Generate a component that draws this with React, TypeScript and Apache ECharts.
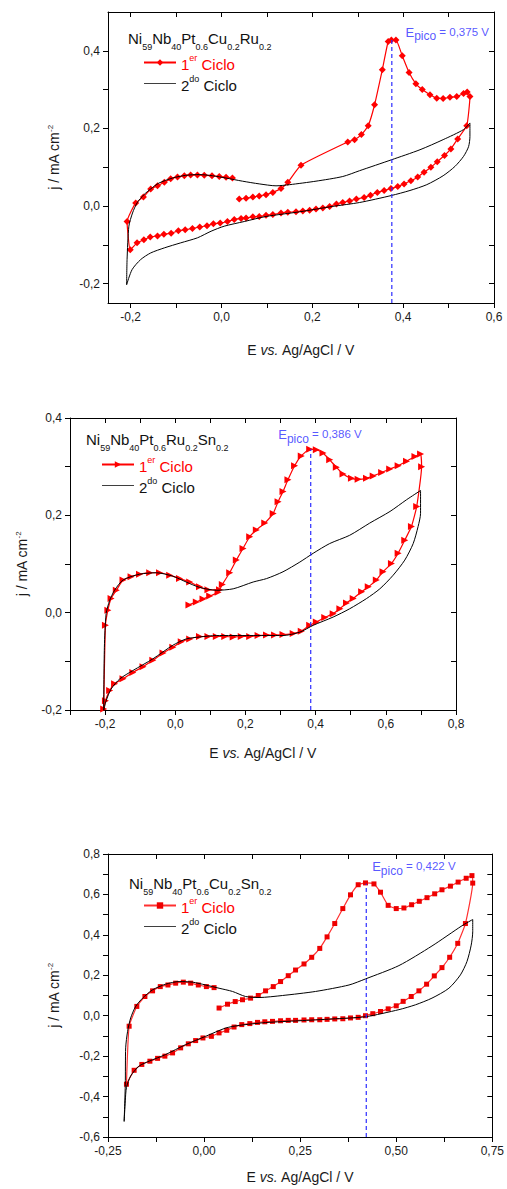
import React, { useEffect, useRef } from "react";
import * as echarts from "echarts";

type Pt = [number, number];

// ---------------- Panel 1 : Ni59Nb40Pt0.6Cu0.2Ru0.2 ----------------
const p1Cycle1: Pt[] = [
  [0.039, 0.018], [0.054, 0.020], [0.069, 0.023], [0.083, 0.026], [0.098, 0.029], [0.113, 0.035],
  [0.131, 0.045], [0.146, 0.061], [0.175, 0.105], [0.278, 0.165],
  [0.293, 0.171], [0.308, 0.184], [0.323, 0.207], [0.337, 0.261], [0.354, 0.351], [0.367, 0.424],
  [0.374, 0.428], [0.384, 0.428], [0.398, 0.387], [0.413, 0.344], [0.428, 0.315], [0.442, 0.300],
  [0.459, 0.287], [0.474, 0.278], [0.488, 0.277], [0.503, 0.280], [0.518, 0.282], [0.533, 0.290],
  [0.541, 0.294], [0.547, 0.282], [0.540, 0.207], [0.520, 0.173], [0.505, 0.147],
  [0.491, 0.130], [0.475, 0.114], [0.461, 0.100], [0.446, 0.087], [0.432, 0.075], [0.417, 0.065],
  [0.402, 0.057], [0.388, 0.050], [0.373, 0.045], [0.358, 0.040], [0.343, 0.035], [0.328, 0.028],
  [0.314, 0.022], [0.297, 0.018], [0.282, 0.013], [0.267, 0.009], [0.253, 0.005], [0.238, -0.001],
  [0.223, -0.005], [0.208, -0.008], [0.194, -0.011], [0.179, -0.013], [0.164, -0.015], [0.146, -0.016],
  [0.131, -0.018], [0.113, -0.022], [0.098, -0.024], [0.083, -0.027], [0.069, -0.028], [0.054, -0.031],
  [0.043, -0.032], [0.028, -0.035], [0.013, -0.040], [-0.003, -0.044], [-0.018, -0.046], [-0.032, -0.051],
  [-0.048, -0.054], [-0.064, -0.058], [-0.080, -0.061], [-0.095, -0.064], [-0.111, -0.070], [-0.127, -0.073],
  [-0.141, -0.077], [-0.157, -0.080], [-0.171, -0.087], [-0.186, -0.095], [-0.201, -0.113],
  [-0.208, -0.040], [-0.189, 0.008], [-0.172, 0.023], [-0.156, 0.044], [-0.141, 0.052], [-0.126, 0.061],
  [-0.112, 0.070], [-0.097, 0.075], [-0.082, 0.078], [-0.068, 0.080], [-0.053, 0.080], [-0.038, 0.079],
  [-0.021, 0.078], [-0.005, 0.076], [0.010, 0.074], [0.024, 0.072],
];
const p1Cycle2: Pt[] = [
  [-0.209, -0.203], [-0.208, -0.138], [-0.204, -0.052], [-0.196, -0.018], [-0.186, 0.008], [-0.171, 0.029],
  [-0.156, 0.044], [-0.138, 0.059], [-0.108, 0.072], [-0.079, 0.079], [-0.049, 0.081], [-0.020, 0.078],
  [0.010, 0.072], [0.046, 0.064], [0.083, 0.057], [0.120, 0.052], [0.150, 0.055], [0.208, 0.064],
  [0.267, 0.076], [0.304, 0.091], [0.374, 0.119], [0.437, 0.145], [0.488, 0.171], [0.533, 0.197],
  [0.547, 0.214], [0.547, 0.179], [0.544, 0.153], [0.533, 0.128], [0.514, 0.102], [0.488, 0.078],
  [0.452, 0.055], [0.415, 0.040], [0.374, 0.027], [0.304, 0.009], [0.245, -0.001], [0.172, -0.015],
  [0.098, -0.027], [0.050, -0.040], [0.006, -0.052], [-0.023, -0.065], [-0.053, -0.082], [-0.090, -0.095],
  [-0.126, -0.108], [-0.156, -0.121], [-0.178, -0.138], [-0.197, -0.164], [-0.209, -0.203],
];
const p1Peak: Pt = [0.375, 0.43];
const p1EpicoAt: Pt = [0.404, 0.443];
const p1XTicks = [-0.2, -0.1, 0, 0.1, 0.2, 0.3, 0.4, 0.5, 0.6];
const p1XLabels = [-0.2, 0, 0.2, 0.4, 0.6];
const p1YTicks = [-0.2, -0.1, 0, 0.1, 0.2, 0.3, 0.4];
const p1YLabels = [-0.2, 0, 0.2, 0.4];

// ---------------- Panel 2 : Ni59Nb40Pt0.6Ru0.2Sn0.2 ----------------
const p2Cycle1: Pt[] = [
  [0.039, 0.016], [0.060, 0.022], [0.079, 0.028], [0.098, 0.034], [0.122, 0.042], [0.134, 0.058],
  [0.155, 0.082], [0.174, 0.108], [0.193, 0.132], [0.212, 0.156], [0.231, 0.170], [0.255, 0.184],
  [0.279, 0.204], [0.293, 0.228], [0.307, 0.249], [0.321, 0.273], [0.340, 0.302], [0.359, 0.322],
  [0.383, 0.336], [0.402, 0.335], [0.421, 0.328], [0.440, 0.314], [0.459, 0.299], [0.478, 0.285],
  [0.502, 0.276], [0.521, 0.274], [0.545, 0.276], [0.564, 0.281], [0.588, 0.288], [0.611, 0.295],
  [0.635, 0.302], [0.659, 0.311], [0.683, 0.321], [0.699, 0.326], [0.702, 0.300], [0.688, 0.218],
  [0.673, 0.177], [0.654, 0.149], [0.635, 0.122], [0.616, 0.101], [0.592, 0.084], [0.573, 0.067],
  [0.550, 0.053], [0.531, 0.043], [0.507, 0.029], [0.488, 0.020], [0.469, 0.008], [0.450, -0.002],
  [0.426, -0.010], [0.402, -0.019], [0.383, -0.026], [0.359, -0.038], [0.336, -0.043], [0.307, -0.045],
  [0.283, -0.046], [0.260, -0.046], [0.236, -0.047], [0.212, -0.049], [0.188, -0.049], [0.165, -0.050],
  [0.141, -0.049], [0.117, -0.049], [0.093, -0.049], [0.069, -0.049], [0.041, -0.054], [0.017, -0.060],
  [-0.007, -0.071], [-0.035, -0.083], [-0.064, -0.098], [-0.092, -0.111], [-0.121, -0.123], [-0.149, -0.136],
  [-0.173, -0.146], [-0.187, -0.160], [-0.199, -0.181], [-0.204, -0.198], [-0.199, -0.026], [-0.192, 0.005],
  [-0.183, 0.029], [-0.168, 0.046], [-0.149, 0.067], [-0.126, 0.074], [-0.102, 0.079], [-0.073, 0.082],
  [-0.045, 0.082], [-0.016, 0.077], [0.012, 0.070], [0.041, 0.063], [0.069, 0.053], [0.093, 0.047],
  [0.126, 0.047],
];
const p2Cycle2: Pt[] = [
  [-0.204, -0.201], [-0.202, -0.071], [-0.197, -0.002], [-0.187, 0.025], [-0.173, 0.046], [-0.149, 0.067],
  [-0.102, 0.079], [-0.054, 0.082], [-0.007, 0.075], [0.031, 0.063], [0.069, 0.052], [0.117, 0.046],
  [0.165, 0.049], [0.222, 0.063], [0.260, 0.070], [0.307, 0.084], [0.355, 0.104], [0.393, 0.122],
  [0.440, 0.142], [0.497, 0.159], [0.554, 0.184], [0.612, 0.208], [0.659, 0.232], [0.699, 0.251],
  [0.699, 0.204], [0.692, 0.177], [0.678, 0.142], [0.654, 0.108], [0.621, 0.077], [0.583, 0.049],
  [0.545, 0.029], [0.497, 0.008], [0.450, -0.009], [0.393, -0.026], [0.355, -0.040], [0.307, -0.047],
  [0.212, -0.047], [0.117, -0.047], [0.069, -0.050], [0.031, -0.054], [-0.007, -0.067], [-0.064, -0.095],
  [-0.121, -0.119], [-0.158, -0.136], [-0.183, -0.157], [-0.197, -0.181], [-0.204, -0.201],
];
const p2Peak: Pt = [0.386, 0.336];
const p2EpicoAt: Pt = [0.292, 0.362];
const p2XTicks = [-0.3, -0.2, -0.1, 0, 0.1, 0.2, 0.3, 0.4, 0.5, 0.6, 0.7, 0.8];
const p2XLabels = [-0.2, 0, 0.2, 0.4, 0.6, 0.8];
const p2YTicks = [-0.2, -0.1, 0, 0.1, 0.2, 0.3, 0.4];
const p2YLabels = [-0.2, 0, 0.2, 0.4];

// ---------------- Panel 3 : Ni59Nb40Pt0.6Cu0.2Sn0.2 ----------------
const p3Cycle1: Pt[] = [
  [0.039, 0.038], [0.061, 0.057], [0.081, 0.070], [0.100, 0.079], [0.121, 0.087], [0.141, 0.100],
  [0.160, 0.123], [0.180, 0.144], [0.199, 0.169], [0.219, 0.198], [0.238, 0.226], [0.260, 0.256],
  [0.280, 0.289], [0.301, 0.333], [0.320, 0.390], [0.340, 0.456], [0.361, 0.530], [0.381, 0.598],
  [0.401, 0.648], [0.420, 0.657], [0.442, 0.652], [0.459, 0.611], [0.479, 0.546], [0.500, 0.530],
  [0.520, 0.533], [0.540, 0.549], [0.560, 0.566], [0.580, 0.584], [0.600, 0.603], [0.619, 0.623],
  [0.641, 0.641], [0.661, 0.661], [0.682, 0.680], [0.697, 0.693], [0.699, 0.656], [0.680, 0.456],
  [0.660, 0.358], [0.639, 0.289], [0.619, 0.238], [0.599, 0.197], [0.579, 0.156], [0.559, 0.123],
  [0.539, 0.095], [0.518, 0.071], [0.500, 0.049], [0.479, 0.034], [0.459, 0.021], [0.439, 0.010],
  [0.420, 0.000], [0.401, -0.008], [0.381, -0.011], [0.361, -0.015], [0.340, -0.016], [0.320, -0.018],
  [0.301, -0.020], [0.280, -0.020], [0.260, -0.021], [0.238, -0.023], [0.219, -0.023], [0.199, -0.025],
  [0.178, -0.028], [0.158, -0.030], [0.139, -0.033], [0.119, -0.039], [0.098, -0.044], [0.078, -0.056],
  [0.059, -0.072], [0.039, -0.085], [0.019, -0.102], [-0.003, -0.110], [-0.022, -0.123], [-0.041, -0.139],
  [-0.061, -0.159], [-0.082, -0.184], [-0.102, -0.200], [-0.121, -0.211], [-0.141, -0.225], [-0.162, -0.241],
  [-0.182, -0.270], [-0.202, -0.339], [-0.195, -0.052], [-0.175, 0.046], [-0.154, 0.095], [-0.134, 0.123],
  [-0.114, 0.144], [-0.094, 0.152], [-0.074, 0.161], [-0.054, 0.166], [-0.035, 0.161], [-0.015, 0.152],
  [0.006, 0.144], [0.026, 0.139],
];
const p3Cycle2: Pt[] = [
  [-0.208, -0.523], [-0.205, -0.339], [-0.204, -0.159], [-0.199, -0.077], [-0.191, -0.011], [-0.178, 0.046],
  [-0.160, 0.087], [-0.134, 0.128], [-0.100, 0.156], [-0.065, 0.169], [-0.030, 0.166], [0.004, 0.152],
  [0.039, 0.136], [0.074, 0.120], [0.108, 0.095], [0.143, 0.090], [0.204, 0.100], [0.290, 0.120],
  [0.377, 0.152], [0.420, 0.182], [0.507, 0.248], [0.593, 0.345], [0.671, 0.445], [0.699, 0.476],
  [0.699, 0.415], [0.695, 0.349], [0.684, 0.268], [0.667, 0.202], [0.637, 0.136], [0.593, 0.087],
  [0.550, 0.054], [0.507, 0.030], [0.420, -0.005], [0.333, -0.016], [0.247, -0.025], [0.160, -0.034],
  [0.091, -0.048], [0.056, -0.061], [0.004, -0.102], [-0.048, -0.143], [-0.100, -0.192], [-0.143, -0.225],
  [-0.169, -0.249], [-0.191, -0.298], [-0.202, -0.356], [-0.205, -0.421], [-0.208, -0.523],
];
const p3Peak: Pt = [0.422, 0.653];
const p3EpicoAt: Pt = [0.436, 0.729];
const p3XTicks = [-0.25, -0.125, 0, 0.125, 0.25, 0.375, 0.5, 0.625, 0.75];
const p3XLabels = [-0.25, 0, 0.25, 0.5, 0.75];
const p3YTicks = [-0.6, -0.5, -0.4, -0.3, -0.2, -0.1, 0, 0.1, 0.2, 0.3, 0.4, 0.5, 0.6, 0.7, 0.8];
const p3YLabels = [-0.6, -0.4, -0.2, 0, 0.2, 0.4, 0.6, 0.8];

// ---------------- shared ----------------
const FONT = "'Liberation Sans', Arial, Helvetica, sans-serif";
const RED = "#ff0000";
const BLUE = "#2b2bff";
// plain line legend icon (tiny invisible anchors keep the bar thin and centred)
const LINE_ICON = "path://M0,0h0.01v0.01h-0.01z M0,10h0.01v0.01h-0.01z M0,4.6h40v0.9h-40z";

function fmt(v: number, d: number): string {
  const s = Math.abs(v) < 1e-9 ? (0).toFixed(d) : v.toFixed(d);
  return s.replace(".", ",");
}

interface PanelCfg {
  top: number;
  height: number;
  grid: { left: number; top: number; width: number; height: number };
  xMin: number; xMax: number; xTicks: number[]; xLabels: number[]; xDec: number;
  yMin: number; yMax: number; yTicks: number[]; yLabels: number[]; yDec: number;
  cycle1: Pt[]; cycle2: Pt[]; peak: Pt; epicoAt: Pt;
  alloy: [string, string][];
  titlePos: [number, number];
  legendPos: [number, number];
  symbol: string; symbolSize: number; symbolRotate: number;
  lineColor: string; markerColor: string;
  xNameGap: number; yNameGap: number;
}

function buildOption(c: PanelCfg): any {
  const tickStyle = { color: "#000", width: 1 };
  const lbl = { fontSize: 12, color: "#1a1a1a", fontFamily: FONT };
  const baseAxis = {
    type: "value",
    axisLine: { show: true, onZero: false, lineStyle: tickStyle },
    splitLine: { show: false },
  };
  const titleText = c.alloy.map(([el, sub]) => `{n|${el}}{s|${sub}}`).join("");
  return {
    animation: false,
    backgroundColor: "#ffffff",
    title: {
      text: titleText,
      left: c.titlePos[0],
      top: c.titlePos[1],
      padding: 0,
      textStyle: {
        fontWeight: "normal",
        fontSize: 15,
        fontFamily: FONT,
        rich: {
          n: { fontSize: 15, fontWeight: "normal", fontFamily: FONT, color: "#111", lineHeight: 17, verticalAlign: "top" },
          s: { fontSize: 9, fontWeight: "normal", fontFamily: FONT, color: "#111", lineHeight: 20, verticalAlign: "bottom" },
        },
      },
    },
    legend: {
      data: [
        { name: "1er Ciclo" },
        { name: "2do Ciclo", icon: LINE_ICON },
      ],
      orient: "vertical",
      left: c.legendPos[0],
      top: c.legendPos[1],
      padding: 0,
      itemWidth: 32,
      itemHeight: 8,
      itemGap: 2,
      selectedMode: false,
      formatter: (name: string) =>
        name.startsWith("1") ? "{r|1}{rs|er}{r| Ciclo}" : "{k|2}{ks|do}{k| Ciclo}",
      textStyle: {
        fontSize: 15,
        fontFamily: FONT,
        rich: {
          r: { fontSize: 15, fontFamily: FONT, color: RED, lineHeight: 19, verticalAlign: "bottom" },
          rs: { fontSize: 9, fontFamily: FONT, color: RED, lineHeight: 9, verticalAlign: "top" },
          k: { fontSize: 15, fontFamily: FONT, color: "#111", lineHeight: 19, verticalAlign: "bottom" },
          ks: { fontSize: 9, fontFamily: FONT, color: "#111", lineHeight: 9, verticalAlign: "top" },
        },
      },
    },
    grid: { ...c.grid, containLabel: false },
    xAxis: [
      {
        ...baseAxis,
        position: "bottom",
        min: c.xMin,
        max: c.xMax,
        axisTick: { show: true, inside: false, length: 5, customValues: c.xTicks, lineStyle: tickStyle },
        axisLabel: { ...lbl, margin: 8, customValues: c.xLabels, formatter: (v: number) => fmt(v, c.xDec) },
        name: "{n|E }{i|vs.}{n| Ag/AgCl / V}",
        nameLocation: "middle",
        nameGap: c.xNameGap,
        nameTextStyle: {
          fontSize: 14,
          fontFamily: FONT,
          rich: {
            n: { fontSize: 14, fontFamily: FONT, color: "#1a1a1a" },
            i: { fontSize: 14, fontFamily: FONT, color: "#1a1a1a", fontStyle: "italic" },
          },
        },
      },
      {
        ...baseAxis,
        position: "top",
        min: c.xMin,
        max: c.xMax,
        axisTick: { show: true, inside: true, length: 5, customValues: c.xTicks, lineStyle: tickStyle },
        axisLabel: { show: false },
      },
    ],
    yAxis: [
      {
        ...baseAxis,
        position: "left",
        min: c.yMin,
        max: c.yMax,
        axisTick: { show: true, inside: false, length: 5, customValues: c.yTicks, lineStyle: tickStyle },
        axisLabel: { ...lbl, margin: 8, customValues: c.yLabels, formatter: (v: number) => fmt(v, c.yDec) },
        name: "{n|j / mA cm}{u|-2}",
        nameLocation: "middle",
        nameGap: c.yNameGap,
        nameTextStyle: {
          fontSize: 14,
          fontFamily: FONT,
          rich: {
            n: { fontSize: 14, fontFamily: FONT, color: "#1a1a1a", lineHeight: 15, verticalAlign: "bottom" },
            u: { fontSize: 8, fontFamily: FONT, color: "#1a1a1a", lineHeight: 8, verticalAlign: "top" },
          },
        },
      },
      {
        ...baseAxis,
        position: "right",
        min: c.yMin,
        max: c.yMax,
        axisTick: { show: true, inside: true, length: 5, customValues: c.yTicks, lineStyle: tickStyle },
        axisLabel: { show: false },
      },
    ],
    series: [
      {
        name: "1er Ciclo",
        type: "line",
        data: c.cycle1,
        xAxisIndex: 0,
        yAxisIndex: 0,
        symbol: c.symbol,
        symbolSize: c.symbolSize,
        symbolRotate: c.symbolRotate,
        showSymbol: true,
        smooth: 0.15,
        lineStyle: { color: c.lineColor, width: 1.2 },
        itemStyle: { color: c.markerColor, borderWidth: 0 },
        z: 3,
      },
      {
        name: "2do Ciclo",
        type: "line",
        data: c.cycle2,
        xAxisIndex: 0,
        yAxisIndex: 0,
        symbol: "none",
        smooth: 0.25,
        lineStyle: { color: "#000000", width: 1 },
        itemStyle: { color: "#000000" },
        z: 4,
      },
      {
        name: "Epico",
        type: "line",
        data: [[c.peak[0], c.yMin], c.peak],
        xAxisIndex: 0,
        yAxisIndex: 0,
        symbol: "none",
        lineStyle: { color: BLUE, width: 1.2, type: [4, 3] },
        z: 5,
        silent: true,
      },
      {
        name: "EpicoLabel",
        type: "scatter",
        data: [c.epicoAt],
        xAxisIndex: 0,
        yAxisIndex: 0,
        symbol: "circle",
        symbolSize: 1,
        silent: true,
        itemStyle: { color: "rgba(0,0,0,0)" },
        label: {
          show: true,
          position: "right",
          distance: 0,
          formatter: `{e|E}{p|pico}{t| = ${fmt(c.peak[0], 3)} V}`,
          rich: {
            e: { fontSize: 13, fontFamily: FONT, color: BLUE, lineHeight: 14, verticalAlign: "top" },
            p: { fontSize: 12, fontFamily: FONT, color: BLUE, lineHeight: 16.5, verticalAlign: "bottom" },
            t: { fontSize: 11.5, fontFamily: FONT, color: BLUE, lineHeight: 14, verticalAlign: "top" },
          },
        },
        z: 6,
      },
    ],
  };
}

const panels: PanelCfg[] = [
  {
    top: 0, height: 370,
    grid: { left: 108, top: 12, width: 386, height: 291 },
    xMin: -0.25, xMax: 0.6, xTicks: p1XTicks, xLabels: p1XLabels, xDec: 1,
    yMin: -0.25, yMax: 0.5, yTicks: p1YTicks, yLabels: p1YLabels, yDec: 1,
    cycle1: p1Cycle1, cycle2: p1Cycle2, peak: p1Peak, epicoAt: p1EpicoAt,
    alloy: [["Ni", "59"], ["Nb", "40"], ["Pt", "0.6"], ["Cu", "0.2"], ["Ru", "0.2"]],
    titlePos: [128, 31], legendPos: [143, 53],
    symbol: "diamond", symbolSize: 7, symbolRotate: 0,
    lineColor: RED, markerColor: RED,
    xNameGap: 40, yNameGap: 47,
  },
  {
    top: 370, height: 420,
    grid: { left: 70, top: 48, width: 386, height: 292 },
    xMin: -0.3, xMax: 0.8, xTicks: p2XTicks, xLabels: p2XLabels, xDec: 1,
    yMin: -0.2, yMax: 0.4, yTicks: p2YTicks, yLabels: p2YLabels, yDec: 1,
    cycle1: p2Cycle1, cycle2: p2Cycle2, peak: p2Peak, epicoAt: p2EpicoAt,
    alloy: [["Ni", "59"], ["Nb", "40"], ["Pt", "0.6"], ["Ru", "0.2"], ["Sn", "0.2"]],
    titlePos: [86, 62], legendPos: [101, 85],
    symbol: "triangle", symbolSize: 7, symbolRotate: -90,
    lineColor: RED, markerColor: RED,
    xNameGap: 36, yNameGap: 41,
  },
  {
    top: 790, height: 399,
    grid: { left: 108, top: 64, width: 386, height: 287 },
    xMin: -0.25, xMax: 0.75, xTicks: p3XTicks, xLabels: p3XLabels, xDec: 2,
    yMin: -0.6, yMax: 0.8, yTicks: p3YTicks, yLabels: p3YLabels, yDec: 1,
    cycle1: p3Cycle1, cycle2: p3Cycle2, peak: p3Peak, epicoAt: p3EpicoAt,
    alloy: [["Ni", "59"], ["Nb", "40"], ["Pt", "0.6"], ["Cu", "0.2"], ["Sn", "0.2"]],
    titlePos: [129, 86], legendPos: [143, 106],
    symbol: "rect", symbolSize: 5, symbolRotate: 0,
    lineColor: "#ff3030", markerColor: "#ee0000",
    xNameGap: 33, yNameGap: 47,
  },
];

function Panel({ cfg }: { cfg: PanelCfg }) {
  const ref = useRef<HTMLDivElement>(null);
  useEffect(() => {
    if (!ref.current) return;
    const chart = echarts.init(ref.current, null, { renderer: "svg" });
    chart.setOption(buildOption(cfg));
    return () => chart.dispose();
  }, [cfg]);
  return (
    <div
      ref={ref}
      style={{ position: "absolute", left: 0, top: cfg.top, width: 507, height: cfg.height }}
    />
  );
}

export default function App() {
  return (
    <div style={{ position: "absolute", left: 0, top: 0, width: 507, height: 1189, background: "#fff", overflow: "hidden" }}>
      {panels.map((p, i) => (
        <Panel key={i} cfg={p} />
      ))}
    </div>
  );
}
